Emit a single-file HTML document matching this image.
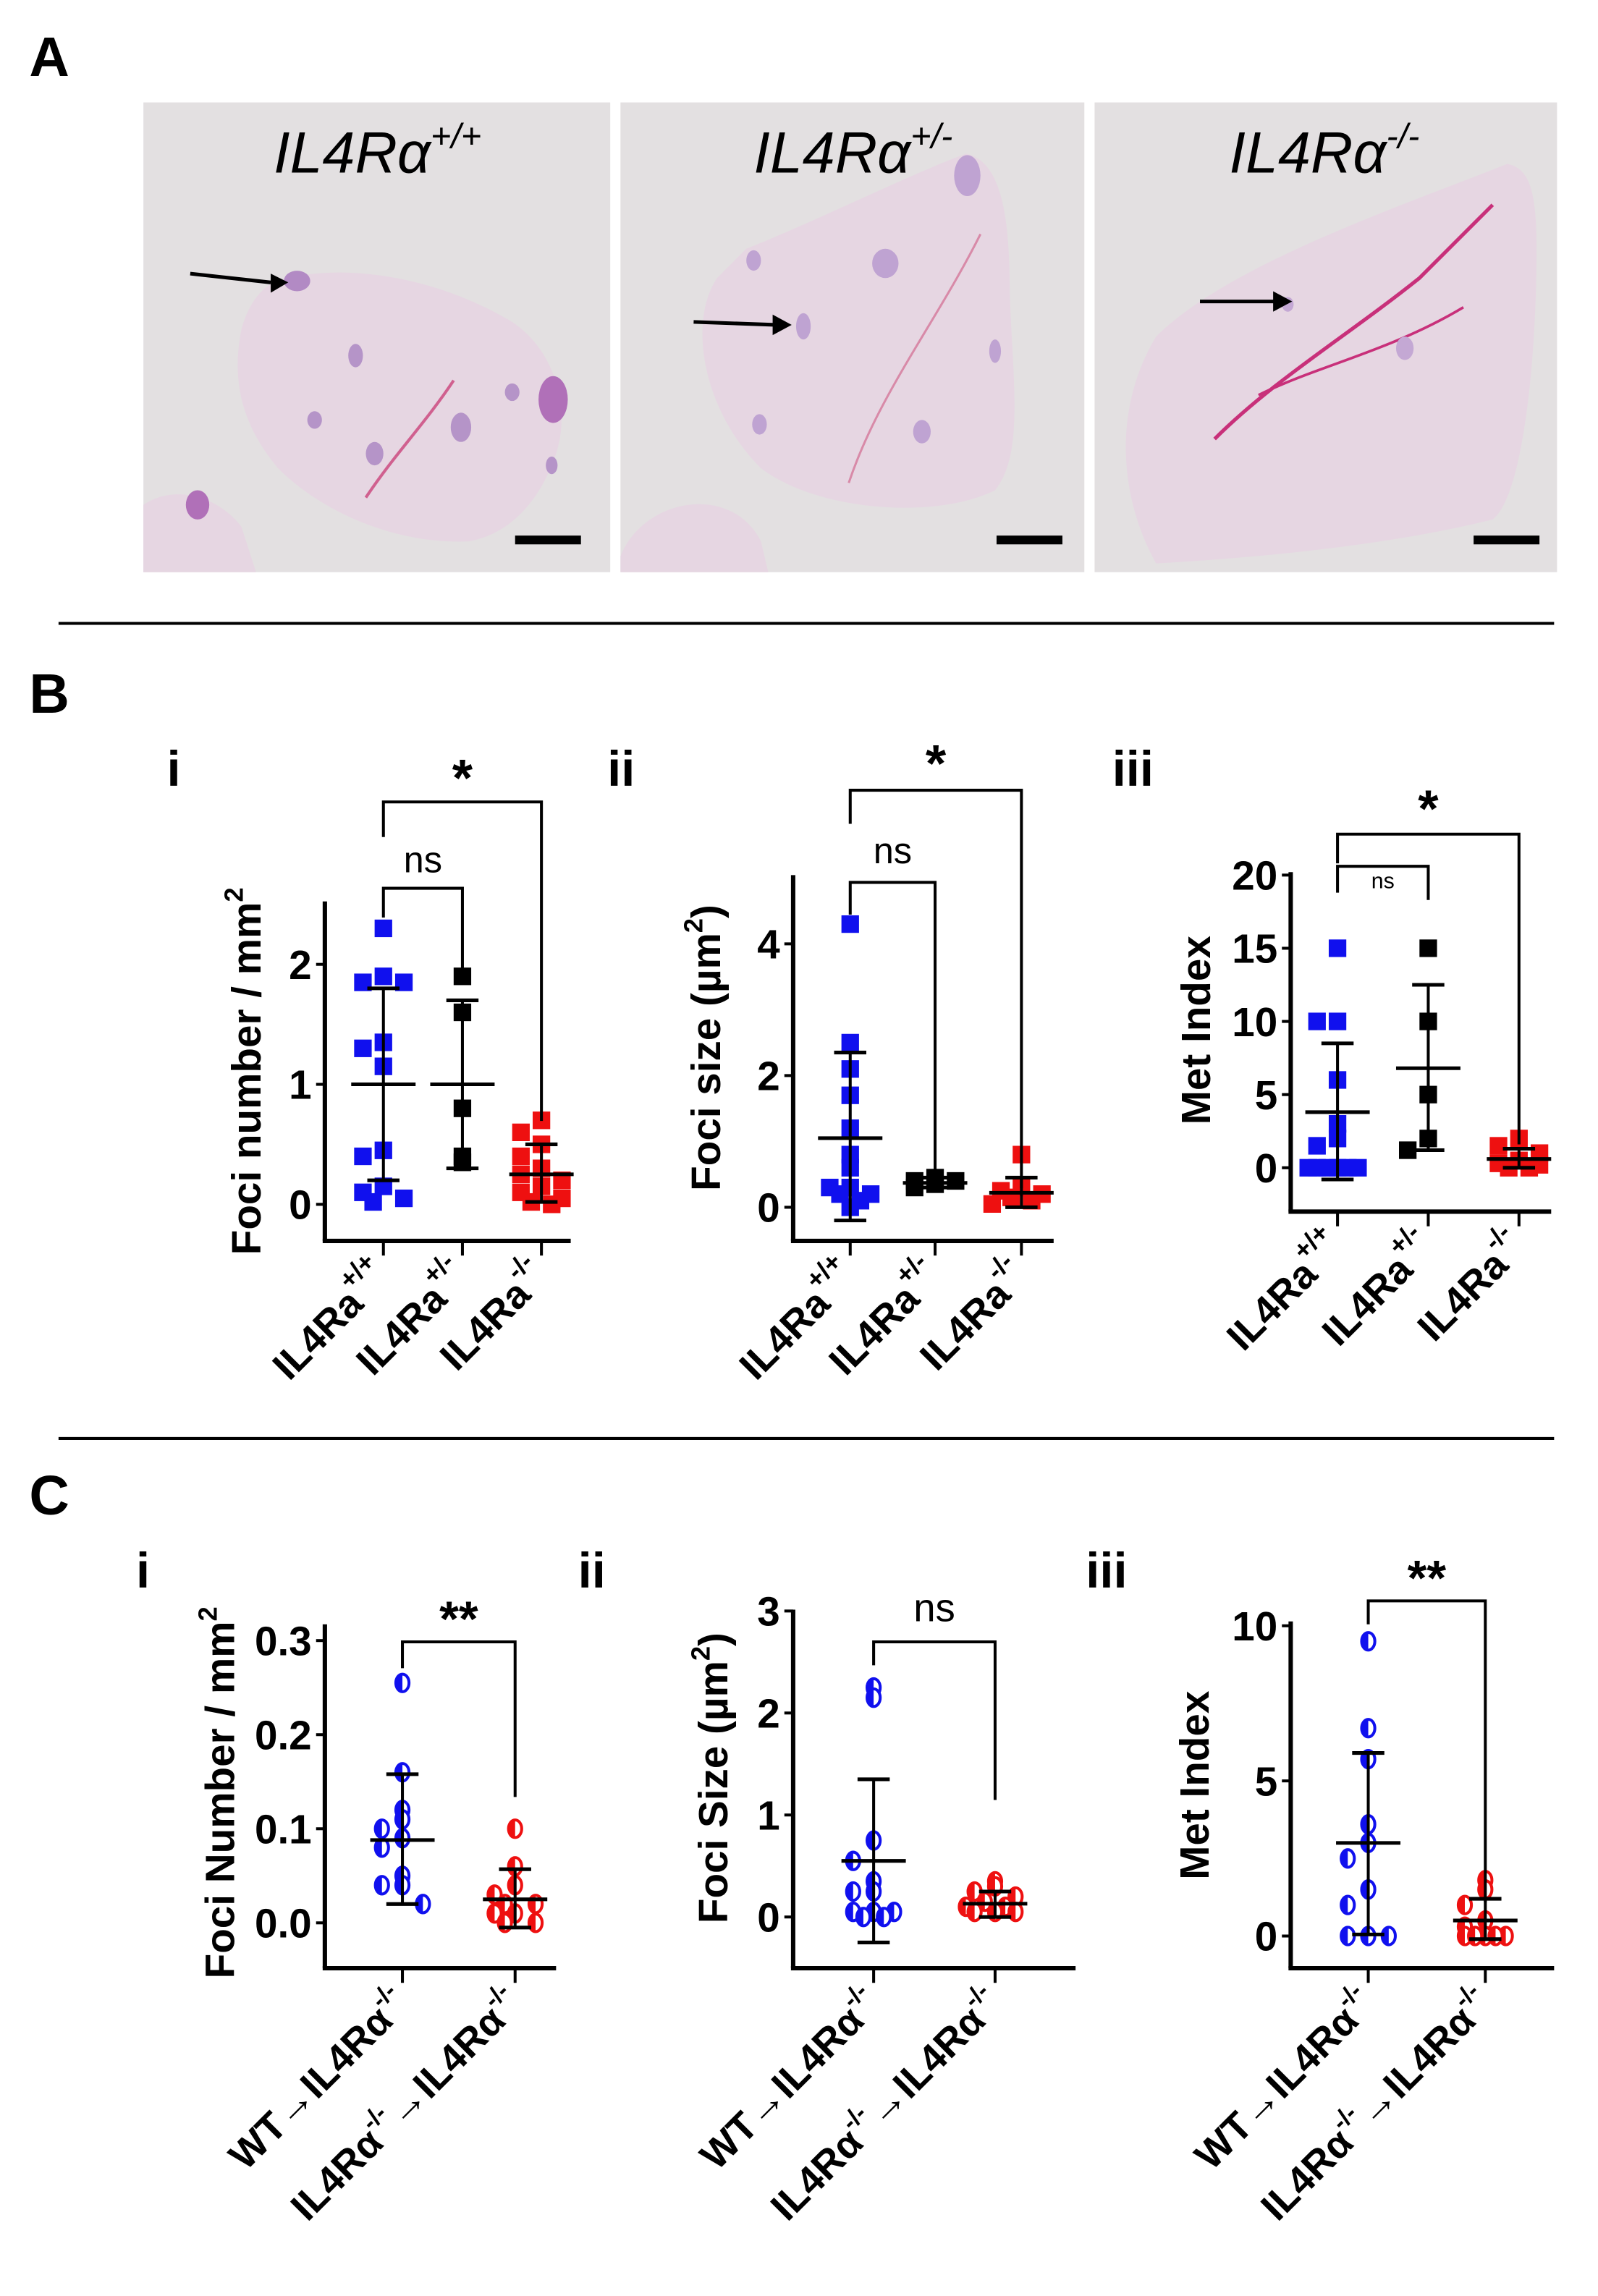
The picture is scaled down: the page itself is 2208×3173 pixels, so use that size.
<!DOCTYPE html>
<html><head><meta charset="utf-8"><style>
html,body{margin:0;padding:0;background:#fff}
svg{display:block}
text{font-family:"Liberation Sans",Arial,sans-serif}
</style></head><body>
<svg id="fig" width="2208" height="3173" viewBox="0 0 1092 1569" preserveAspectRatio="none" xmlns="http://www.w3.org/2000/svg">
<text x="20" y="52" font-size="38" font-weight="bold">A</text>
<g>
<rect x="98" y="70" width="319" height="321" fill="#e3e0e1"/>
<path d="M196,190 C240,180 300,190 350,220 C380,240 390,280 380,310 C370,340 350,365 320,370 C270,372 220,350 190,320 C165,290 158,260 165,225 C172,200 185,192 196,190Z" fill="#e6d6e2"/>
<ellipse cx="203" cy="192" rx="9" ry="7" fill="#b28ac4"/>
<ellipse cx="378" cy="273" rx="10" ry="16" fill="#b070b8"/>
<ellipse cx="243" cy="243" rx="5" ry="8" fill="#b594c8"/>
<ellipse cx="256" cy="310" rx="6" ry="8" fill="#b594c8"/>
<ellipse cx="315" cy="292" rx="7" ry="10" fill="#b594c8"/>
<ellipse cx="215" cy="287" rx="5" ry="6" fill="#b594c8"/>
<ellipse cx="350" cy="268" rx="5" ry="6" fill="#b594c8"/>
<ellipse cx="377" cy="318" rx="4" ry="6" fill="#b594c8"/>
<path d="M250,340 C270,310 290,290 310,260" stroke="#d0608f" stroke-width="2" fill="none"/>
<path d="M98,345 C120,330 150,340 165,360 L175,391 L98,391Z" fill="#e6d6e2"/>
<ellipse cx="135" cy="345" rx="8" ry="10" fill="#b070b8"/>
<path d="M130,187 L185,193" stroke="#000" stroke-width="2.5"/><path d="M185,187 L197,193 L185,200Z" fill="#000"/>
<rect x="352" y="366" width="45" height="6" fill="#000"/>
<text x="258" y="118" font-size="40" font-style="italic" text-anchor="middle">IL4Rα<tspan font-size="24" dy="-17">+/+</tspan></text>
</g>
<g>
<rect x="424" y="70" width="317" height="321" fill="#e3e0e1"/>
<path d="M510,170 C560,150 620,120 660,105 C685,110 690,150 690,200 C692,260 700,310 680,335 C640,355 560,350 520,320 C480,280 470,220 490,190Z" fill="#e6d6e2"/>
<ellipse cx="661" cy="120" rx="9" ry="14" fill="#bfa3d2"/>
<ellipse cx="605" cy="180" rx="9" ry="10" fill="#bfa3d2"/>
<ellipse cx="549" cy="223" rx="5" ry="9" fill="#bfa3d2"/>
<ellipse cx="515" cy="178" rx="5" ry="7" fill="#bfa3d2"/>
<ellipse cx="630" cy="295" rx="6" ry="8" fill="#bfa3d2"/>
<ellipse cx="519" cy="290" rx="5" ry="7" fill="#bfa3d2"/>
<ellipse cx="680" cy="240" rx="4" ry="8" fill="#bfa3d2"/>
<path d="M580,330 C600,270 640,220 670,160" stroke="#d88aa8" stroke-width="1.5" fill="none"/>
<path d="M424,380 C440,340 500,330 520,370 L525,391 L424,391Z" fill="#e6d6e2"/>
<path d="M474,220 L530,222" stroke="#000" stroke-width="2.5"/><path d="M528,215 L541,222 L528,229Z" fill="#000"/>
<rect x="681" y="366" width="45" height="6" fill="#000"/>
<text x="583" y="118" font-size="40" font-style="italic" text-anchor="middle">IL4Rα<tspan font-size="24" dy="-17">+/-</tspan></text>
</g>
<g>
<rect x="748" y="70" width="316" height="321" fill="#e3e0e1"/>
<path d="M1030,112 C1045,115 1050,130 1050,170 C1050,250 1040,340 1020,355 C960,370 880,380 790,385 C765,340 760,280 790,230 C840,180 960,140 1030,112Z" fill="#e6d6e2"/>
<path d="M830,300 C870,260 920,230 970,190 C990,170 1010,150 1020,140" stroke="#c8307a" stroke-width="2.5" fill="none"/>
<path d="M860,270 C900,250 950,240 1000,210" stroke="#c8307a" stroke-width="1.8" fill="none"/>
<ellipse cx="960" cy="238" rx="6" ry="8" fill="#c4a8d4"/>
<ellipse cx="880" cy="208" rx="4" ry="5" fill="#c4a8d4"/>
<path d="M820,206 L872,206" stroke="#000" stroke-width="2.5"/><path d="M870,199 L883,206 L870,213Z" fill="#000"/>
<rect x="1007" y="366" width="45" height="6" fill="#000"/>
<text x="905" y="118" font-size="40" font-style="italic" text-anchor="middle">IL4Rα<tspan font-size="24" dy="-17">-/-</tspan></text>
</g>
<line x1="40" y1="426" x2="1062" y2="426" stroke="#000" stroke-width="2"/>
<text x="20" y="487" font-size="38" font-weight="bold">B</text>
<line x1="40" y1="983" x2="1062" y2="983" stroke="#000" stroke-width="2"/>
<text x="20" y="1035" font-size="38" font-weight="bold">C</text>
<g id="charts"></g>
</svg>
<script>
// ---------- data ----------
const biBlue=[2.3,1.9,1.85,1.85,1.35,1.3,1.15,0.45,0.4,0.15,0.1,0.05,0.02];
const biBlack=[1.9,1.6,0.8,0.4,0.35];
const biRed=[0.7,0.6,0.5,0.4,0.3,0.25,0.2,0.15,0.1,0.05,0.02,0.0];
const biMean=[1.0,1.0,0.25];const biLo=[0.2,0.3,0.02];const biHi=[1.8,1.7,0.5];
const biiBlue=[4.3,2.5,2.1,1.7,1.2,0.8,0.6,0.3,0.3,0.2,0.2,0.1,0.0];
const biiBlack=[0.45,0.4,0.4,0.35,0.3];
const biiRed=[0.8,0.3,0.25,0.2,0.15,0.1,0.05];
const biiMean=[1.05,0.37,0.22];const biiLo=[-0.2,0.3,0.0];const biiHi=[2.35,0.45,0.45];
const biiiBlue=[15,10,10,6,3,2,1.5,0,0,0,0,0,0];
const biiiBlack=[15,10,5,2,1.2];
const biiiRed=[2,1.5,1,0.5,0.3,0.2,0,0];
const biiiMean=[3.8,6.8,0.6];const biiiLo=[-0.8,1.2,0];const biiiHi=[8.5,12.5,1.3];
const ciBlue=[0.255,0.16,0.12,0.11,0.1,0.09,0.08,0.05,0.04,0.04,0.02];
const ciRed=[0.1,0.06,0.04,0.03,0.02,0.02,0.01,0.01,0.0,0.0];
const ciMean=[0.088,0.025];const ciLo=[0.02,-0.005];const ciHi=[0.158,0.057];
const ciiBlue=[2.25,2.15,0.75,0.55,0.35,0.25,0.25,0.05,0.05,0.05,0,0];
const ciiRed=[0.35,0.3,0.25,0.2,0.15,0.1,0.1,0.05,0.05,0.05];
const ciiMean=[0.55,0.13];const ciiLo=[-0.25,0.0];const ciiHi=[1.35,0.25];
const ciiiBlue=[9.5,6.7,5.7,3.6,3,2.5,1.5,1,0,0,0];
const ciiiRed=[1.8,1.5,1,0.5,0.3,0,0,0,0,0];
const ciiiMean=[3,0.5];const ciiiLo=[0.05,-0.1];const ciiiHi=[5.9,1.2];
const bTicks=[[0,1,2],[0,2,4],[0,5,10,15,20]];
const cTicks=[[0.0,0.1,0.2,0.3],[0,1,2,3],[0,5,10]];
const cTickLabels=[["0.0","0.1","0.2","0.3"],["0","1","2","3"],["0","5","10"]];
const bCats=["+/+","+/-","-/-"];
// ---------- drawing ----------
const NS="http://www.w3.org/2000/svg";
const root=document.getElementById('charts');
function mk(tag,attrs,parent){const e=document.createElementNS(NS,tag);for(const k in attrs)e.setAttribute(k,attrs[k]);(parent||root).appendChild(e);return e;}
function chart(cfg){
  const g=mk('g',{});
  
  
  const y=v=>cfg.y0-(v-cfg.v0)*cfg.k;
  mk('line',{x1:cfg.ax,y1:cfg.top,x2:cfg.ax,y2:cfg.bottom,stroke:'#000','stroke-width':3},g);
  mk('line',{x1:cfg.ax-1.5,y1:cfg.bottom,x2:cfg.right,y2:cfg.bottom,stroke:'#000','stroke-width':3},g);
  cfg.ticks.forEach((t,i)=>{
    mk('line',{x1:cfg.ax-6,y1:y(t),x2:cfg.ax,y2:y(t),stroke:'#000','stroke-width':2},g);
    const tx=mk('text',{x:cfg.ax-9,y:y(t)+10,'font-size':28,'font-weight':'bold','text-anchor':'end'},g);
    tx.textContent=cfg.tickLabels?cfg.tickLabels[i]:String(t);
    
    
  });
  cfg.cx.forEach(c=>mk('line',{x1:c,y1:cfg.bottom,x2:c,y2:cfg.bottom+10,stroke:'#000','stroke-width':2},g));
  const yt=mk('text',{x:0,y:0,'font-size':cfg.tsize||28,'font-weight':'bold','text-anchor':'middle',transform:`translate(${cfg.tx},${cfg.ty}) rotate(-90)`},g);
  yt.innerHTML=cfg.title;
  
  
  const rn=mk('text',{x:cfg.rx,y:cfg.ry,'font-size':34,'font-weight':'bold'},g);
  rn.textContent=cfg.roman;
  
  
  const jit=[0,-14,14,-7,7,-20,20];
  cfg.series.forEach((s,si)=>{
    const seen={};
    s.vals.forEach(v=>{
      const key=Math.round(y(v)/16);seen[key]=(seen[key]||0);
      const off=jit[seen[key]%jit.length];seen[key]++;
      const px=cfg.cx[si]+off, py=y(v);
      let m;
      if(cfg.shape==='sq'){m=mk('rect',{x:px-6,y:py-6,width:12,height:12,fill:s.color},g);}
      else{
        m=mk('g',{},g);
        mk('ellipse',{cx:px,cy:py,rx:4.5,ry:6,fill:'#fff',stroke:s.color,'stroke-width':2},m);
        mk('path',{d:`M${px},${py-6} A4.5,6 0 0 0 ${px},${py+6}Z`,fill:s.color},m);
      }
      
      
    });
  });
  cfg.cx.forEach((c,i)=>{
    const e=mk('g',{},g);
    
    
    mk('line',{x1:c,y1:y(cfg.lo[i]),x2:c,y2:y(cfg.hi[i]),stroke:'#000','stroke-width':2},e);
    mk('line',{x1:c-22,y1:y(cfg.mean[i]),x2:c+22,y2:y(cfg.mean[i]),stroke:'#000','stroke-width':2.5},e);
    mk('line',{x1:c-11,y1:y(cfg.lo[i]),x2:c+11,y2:y(cfg.lo[i]),stroke:'#000','stroke-width':2.5},e);
    mk('line',{x1:c-11,y1:y(cfg.hi[i]),x2:c+11,y2:y(cfg.hi[i]),stroke:'#000','stroke-width':2.5},e);
  });
  cfg.brackets.forEach(b=>{
    const p=mk('path',{d:`M${b.x1},${b.l1} V${b.top} H${b.x2} V${b.l2}`,fill:'none',stroke:'#000','stroke-width':2},g);
    
    
    const t=mk('text',{x:(b.x1+b.x2)/2,y:b.ty,'font-size':b.fs,'font-weight':b.bold?'bold':'normal','text-anchor':'middle'},g);
    t.textContent=b.label;
    
    
  });
  cfg.labels.forEach((lab,i)=>{
    const t=mk('text',{x:0,y:0,'font-size':27,'font-weight':'bold','text-anchor':'end',transform:`translate(${cfg.cx[i]+6},${cfg.bottom+26}) rotate(-45)`},g);
    t.innerHTML=lab;
    
    
  });
}
const bLab=bCats.map(c=>`IL4Ra<tspan font-size="18" dy="-15">${c}</tspan>`);
const cLab=[`WT→IL4Rα<tspan font-size="17" dy="-13">-/-</tspan>`,`IL4Rα<tspan font-size="17" dy="-13">-/-</tspan><tspan dy="13">→IL4Rα</tspan><tspan font-size="17" dy="-13">-/-</tspan>`];
chart({name:'chart-b-i-foci-number',ax:222,top:616,bottom:848,right:390,y0:823,v0:0,k:82,ticks:bTicks[0],cx:[262,316,370],
 series:[{vals:biBlue,color:'#1010ee'},{vals:biBlack,color:'#000'},{vals:biRed,color:'#ee1010'}],shape:'sq',
 mean:biMean,lo:biLo,hi:biHi,title:'Foci number / mm<tspan font-size="18" dy="-12">2</tspan>',tx:178,ty:732,roman:'i',rx:114,ry:537,
 brackets:[{x1:262,x2:316,top:607,l1:627,l2:668,label:'ns',ty:596,fs:25},{x1:262,x2:370,top:548,l1:572,l2:766,label:'*',ty:544,fs:36,bold:true}],labels:bLab});
chart({name:'chart-b-ii-foci-size',ax:542,top:598,bottom:848,right:720,y0:825,v0:0,k:45,ticks:bTicks[1],cx:[581,639,698],
 series:[{vals:biiBlue,color:'#1010ee'},{vals:biiBlack,color:'#000'},{vals:biiRed,color:'#ee1010'}],shape:'sq',
 mean:biiMean,lo:biiLo,hi:biiHi,title:'Foci size (µm<tspan font-size="18" dy="-12">2</tspan><tspan dy="12">)</tspan>',tx:492,ty:716,roman:'ii',rx:415,ry:537,
 brackets:[{x1:581,x2:639,top:603,l1:625,l2:815,label:'ns',ty:590,fs:25},{x1:581,x2:698,top:540,l1:563,l2:812,label:'*',ty:534,fs:36,bold:true}],labels:bLab});
chart({name:'chart-b-iii-met-index',ax:882,top:596,bottom:828,right:1060,y0:798,v0:0,k:10,ticks:bTicks[2],cx:[914,976,1038],
 series:[{vals:biiiBlue,color:'#1010ee'},{vals:biiiBlack,color:'#000'},{vals:biiiRed,color:'#ee1010'}],shape:'sq',
 mean:biiiMean,lo:biiiLo,hi:biiiHi,title:'Met Index',tx:827,ty:704,roman:'iii',rx:760,ry:537,
 brackets:[{x1:914,x2:976,top:592,l1:610,l2:615,label:'ns',ty:607,fs:15},{x1:914,x2:1038,top:570,l1:590,l2:782,label:'*',ty:565,fs:36,bold:true}],labels:bLab});
chart({name:'chart-c-i-foci-number',ax:222,top:1110,bottom:1345,right:380,y0:1314,v0:0,k:643,ticks:cTicks[0],tickLabels:cTickLabels[0],cx:[275,352],
 series:[{vals:ciBlue,color:'#1010ee'},{vals:ciRed,color:'#ee1010'}],shape:'c',
 mean:ciMean,lo:ciLo,hi:ciHi,title:'Foci Number / mm<tspan font-size="18" dy="-12">2</tspan>',tx:160,ty:1225,roman:'i',rx:93,ry:1085,
 brackets:[{x1:275,x2:352,top:1122,l1:1140,l2:1228,label:'**',ty:1118,fs:34,bold:true}],labels:cLab});
chart({name:'chart-c-ii-foci-size',ax:542,top:1100,bottom:1345,right:735,y0:1310,v0:0,k:69.7,ticks:cTicks[1],tickLabels:cTickLabels[1],cx:[597,680],
 series:[{vals:ciiBlue,color:'#1010ee'},{vals:ciiRed,color:'#ee1010'}],shape:'c',
 mean:ciiMean,lo:ciiLo,hi:ciiHi,title:'Foci Size (µm<tspan font-size="18" dy="-12">2</tspan><tspan dy="12">)</tspan>',tx:497,ty:1215,roman:'ii',rx:395,ry:1085,
 brackets:[{x1:597,x2:680,top:1122,l1:1138,l2:1230,label:'ns',ty:1108,fs:27}],labels:cLab});
chart({name:'chart-c-iii-met-index',ax:882,top:1108,bottom:1345,right:1062,y0:1323,v0:0,k:21.2,ticks:cTicks[2],tickLabels:cTickLabels[2],cx:[935,1015],
 series:[{vals:ciiiBlue,color:'#1010ee'},{vals:ciiiRed,color:'#ee1010'}],shape:'c',
 mean:ciiiMean,lo:ciiiLo,hi:ciiiHi,title:'Met Index',tx:826,ty:1220,roman:'iii',rx:742,ry:1085,
 brackets:[{x1:935,x2:1015,top:1094,l1:1110,l2:1300,label:'**',ty:1090,fs:34,bold:true}],labels:cLab});
</script>
</body></html>
